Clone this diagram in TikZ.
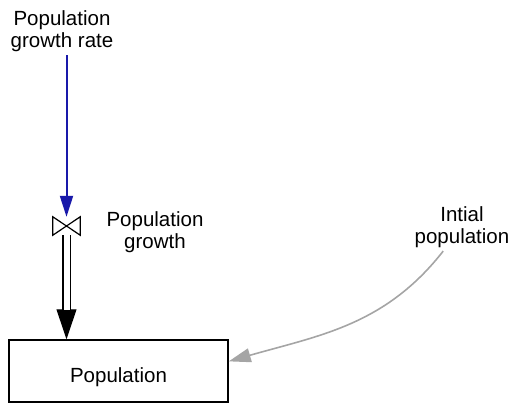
\documentclass[tikz,border=0pt]{standalone}
\usepackage{fontspec}
\setmainfont{Liberation Sans}
\usetikzlibrary{arrows.meta}
\definecolor{linkblue}{RGB}{25,25,170}
\definecolor{linkgrey}{RGB}{165,165,165}
\def\pipegap{6pt}

\begin{document}
\begin{tikzpicture}[x=1pt, y=1pt,
  nodes = {font=\fontsize{20.5}{22}\selectfont, align=center},
  stock/.style={draw, line width=1.5pt, minimum width=219pt, minimum height=62pt, inner sep=0pt, text height=28pt},
  valvebox/.style={minimum width=27pt, minimum height=18pt, inner sep=0pt},
  bluelink/.style={draw=linkblue, line width=2pt, -{Triangle[width=13pt,length=21pt]}},
  greylink/.style={draw=linkgrey, line width=1.6pt, -{Triangle[width=14pt,length=22pt]}},
  flowhead/.style={line width=1pt, -{Triangle[width=20pt,length=30pt]}},
  pipe/.style={double, double distance=\pipegap, line width=1.3pt}]
\useasboundingbox (0,0) rectangle (510,405);
% labels
\node (rate) at (62,374) {Population\\growth rate};
\node (growth) at (155,173) {Population\\growth};
\node (init) at (462,178) {Intial\\population};
\node[stock] (pop) at (118.5,34) {Population};
\node[valvebox] (valve) at (66.5,179) {};
% flow into the stock
\draw[flowhead] (valve.south) -- (valve.south |- pop.north);
\draw[pipe, shorten >=29pt] (valve.south) -- (valve.south |- pop.north);
\draw[line width=1.2pt, fill=white] (valve.north west) -- (valve.south east)
-- (valve.north east) -- (valve.south west) -- cycle;  % bowtie valve
% links
\draw[bluelink] (rate.south -| valve.north) -- (valve.north);
\draw[greylink] (init) to[out=232, in=16] (pop.5);
\end{tikzpicture}
\end{document}
